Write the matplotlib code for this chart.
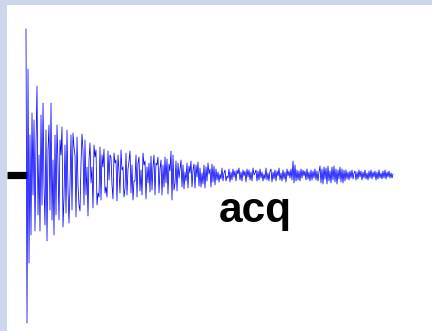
import numpy as np
from matplotlib import pyplot as plt

# acquisition signal, amplitude (one sample per pixel)
seg1 = [146, -148, 106, -88, 40, -60, 62, -20, 55, -56, 30, 89, -40, 20, -56,
        60, -30, 72, -10, -50, 45, -66, 25, 50, -35, 72, -45, 15, -60, 40]
seg2 = [-40, 50, 10, -45, 35, 20, 48, -52, -22, 30, -38, 45, -15, -48, -10,
        40, -35, 42, 28, 20, -42, 38, -10, -30, -36, 12, 41, 25, -30, 35,
        -20, 8, -41, 15, 32, -8, 8, -33, 30, 18, 25, -30, -18, -22, 28]
seg3 = [-25, 20, 8, 26, -18, -12, -22, 24, -5, 20, 18, -10, -24, 22, 12,
        15, -26, 20, 4, -18, 25, 5, 8, -22, -14, 22, -20, 6, 14, 24,
        -18, 10, -25, -6, -6, 20, -22, 12, 18, -16, 5, -20, 22, 10, 14,
        -24, 8, -8, 12, -17]
seg4 = [19, -15, 8, 20, -20, 12, 10, 18, -18, 6, 15, -20, 10, -12, 18,
        -8, 16, -19, 11, 4, 24, -25, 20, -15, -8, 14, -16, 12, -3, 6,
        15, -12, 10, -14, 3, -6, 12, -13, 9, 2, 14, -12, 5, 11, -13,
        10, -2, 13, -11, 7, -12, 2, -9, 10, -13, 8, -6, 12, 1, 6,
        -12, 11, -7, 9, -10]
seg5 = [6, -5, 3, -7, 1, -4, 7, -6, 2, 5, -6, -1, -3, 6, -7, 3, -5, 6, -2, 4,
        -6, 5, 1, 7, -5, 3, -6, 5, -1, 4, -7, 6, -2, 5, -5, 3, -6, 7, 0, 2,
        5, -6, 4, -5, 6, -3, 3, -6, 1, -4, 7, -5, 2, -6, 4, 6, -7, 3, -4, 5,
        -6, 4, -1, 7, -5, 2, -6, 5, -4, 3, -7, 6, -1, 4, -3, 6, -5]
seg6 = [14, -8, 10, -6, 5, -5, 4, -6, 6, -3, 5, -1, 4, -5, 6, -4, 3, -6,
        5, -5, 4, -3, 6, -5, 4, -6, 3, 9, -8, 6, -9, 8, -4, 7, -9, 9, -6,
        4, -8, 8, -5, 9, -7, 6, -9, 5, -4, 8, -7, 6, -8, 5, -6]
seg7 = [5, -4, 3, -5, 4, -3, 5, -4, 2, 4, -5, 3, -4, 5, -2, 4, -5, 3, -3,
        5, -4, 2, -5, 4, -3, 5, -4, 3, -2, 4, -5, 3, -4, 5, -3, 2, -4, 4,
        -3, 5, -4, 3, -2, 4, -3, 2, -3, 1]

label = 'acq'

signal = np.array(seg1 + seg2 + seg3 + seg4 + seg5 + seg6 + seg7, dtype=float)
t = np.arange(len(signal))

fig = plt.figure(figsize=(4.32, 3.31), dpi=100, facecolor='#cdd6ea')
ax = fig.add_axes([7/432, 0, 425/432, 326/331], facecolor='white')
for s in ax.spines.values():
    s.set_visible(False)
ax.set_xticks([])
ax.set_yticks([])
ax.set_xlim(-19, 406)
ax.set_ylim(-156, 170)

# flat lead-in before acquisition starts
ax.plot([ax.get_xlim()[0], t[0] + 1], [0, 0], color='black', lw=5.2,
        solid_capstyle='butt')
ax.plot(t, signal, color='#0000ff', lw=0.55)

ax.text(193, -47, label, fontsize=30.5, fontweight='bold',
        family='Liberation Sans', ha='left', va='baseline', color='black')

plt.savefig('out.png', dpi=100, facecolor=fig.get_facecolor())
